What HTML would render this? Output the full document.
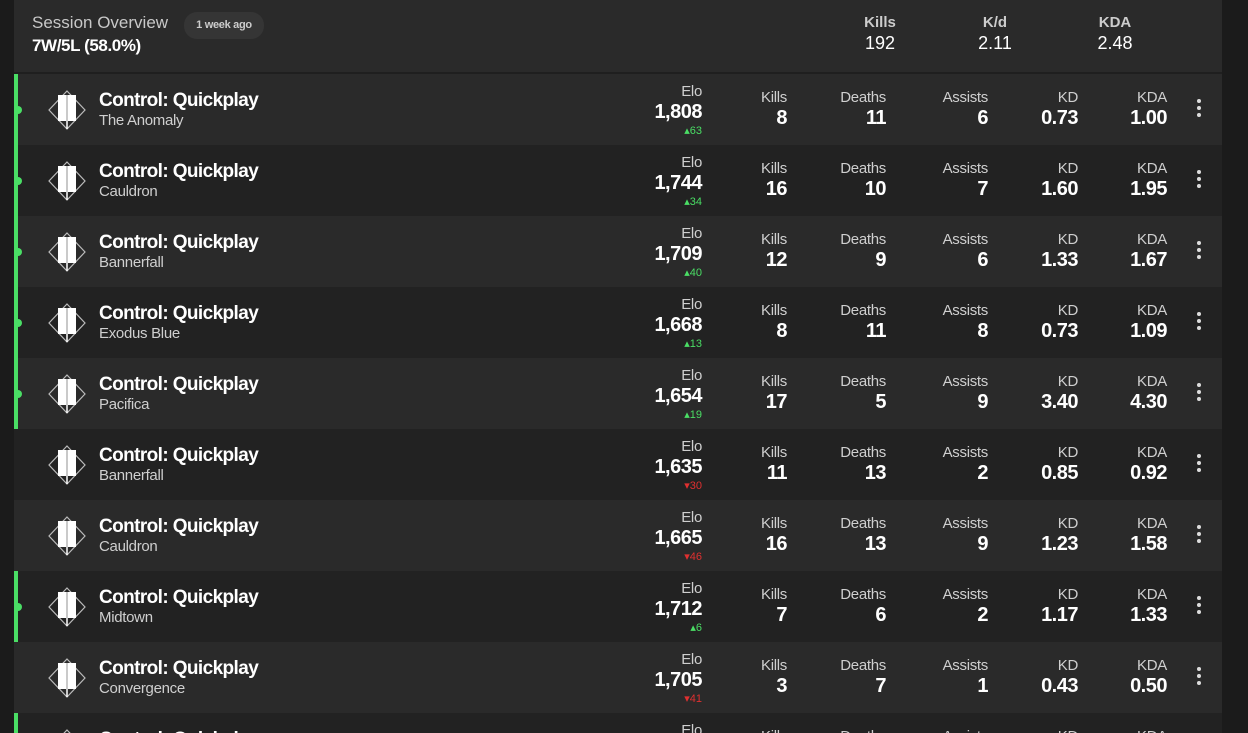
<!DOCTYPE html>
<html><head><meta charset="utf-8"><style>
html,body{margin:0;width:1248px;height:733px;overflow:hidden}
body{background:#1b1b1b;font-family:"Liberation Sans",sans-serif;color:#fff;position:relative}
.panel{position:absolute;left:14px;top:0;width:1208px;height:733px;background:#1f1f1f;overflow:hidden}
.hdr{position:absolute;left:0;top:0;width:1208px;height:72px;background:#2a2a2a}
.row{position:absolute;left:0;width:1208px;height:71px;overflow:hidden}
.bar{position:absolute;left:0;top:0;width:4px;height:71px;background:#4ade65}
.dot{position:absolute;left:0;top:32px;width:8px;height:8px;border-radius:50%;background:#4ade65}
.t{position:absolute;white-space:nowrap}
.lab{font-size:15px;color:#cfcfcf;text-align:right;letter-spacing:-0.3px}
.val{font-size:20px;font-weight:bold;text-align:right;letter-spacing:-0.5px}
</style></head><body>
<div class="panel">
<div class="hdr">
<div class="t" style="left:18px;top:13px;font-size:17px;color:#c8c8c8">Session Overview</div>
<div class="t" style="left:170px;top:12px;height:27px;width:80px;border-radius:13px;background:#353535;font-size:11px;font-weight:bold;color:#ccc;text-align:center;line-height:27px;letter-spacing:-0.3px">1 week ago</div>
<div class="t" style="left:18px;top:36px;font-size:17px;font-weight:bold;letter-spacing:-0.4px">7W/5L (58.0%)</div>
<div class="t" style="left:836px;top:14px;width:60px;text-align:center;font-size:15px;font-weight:bold;color:#ccc">Kills</div>
<div class="t" style="left:836px;top:33px;width:60px;text-align:center;font-size:18px">192</div>
<div class="t" style="left:951px;top:14px;width:60px;text-align:center;font-size:15px;font-weight:bold;color:#ccc">K/d</div>
<div class="t" style="left:951px;top:33px;width:60px;text-align:center;font-size:18px">2.11</div>
<div class="t" style="left:1071px;top:14px;width:60px;text-align:center;font-size:15px;font-weight:bold;color:#ccc">KDA</div>
<div class="t" style="left:1071px;top:33px;width:60px;text-align:center;font-size:18px">2.48</div>
</div>
<div id="rows"></div>
</div>
<script>
const maps=["The Anomaly","Cauldron","Bannerfall","Exodus Blue","Pacifica","Bannerfall","Cauldron","Midtown","Convergence",""];
const elo=["1,808","1,744","1,709","1,668","1,654","1,635","1,665","1,712","1,705",""];
const delta=[63,34,40,13,19,-30,-46,6,-41,0];
const kills=[8,16,12,8,17,11,16,7,3,""];
const deaths=[11,10,9,11,5,13,13,6,7,""];
const assists=[6,7,6,8,9,2,9,2,1,""];
const kd=["0.73","1.60","1.33","0.73","3.40","0.85","1.23","1.17","0.43",""];
const kda=["1.00","1.95","1.67","1.09","4.30","0.92","1.58","1.33","0.50",""];
const wins=[1,1,1,1,1,0,0,1,0,1];
const cont=document.getElementById('rows');
const cols=[["Kills",kills,773],["Deaths",deaths,872],["Assists",assists,974],["KD",kd,1064],["KDA",kda,1153]];
for(let i=0;i<10;i++){
 const r=document.createElement('div');r.className='row';
 
 
 const top=74+71*i;
 r.style.top=top+'px';r.style.background=i%2==0?'#2a2a2a':'#222222';
 r.style.height=Math.min(71,733-top)+'px';
 let h='';
 if(wins[i])h+='<div class="bar"></div><div class="dot"></div>';
 h+='<svg class="t" style="left:33px;top:15px" width="40" height="42"><path d="M20 2 L38 21 L20 40 L2 21 Z" fill="none" stroke="#bbb" stroke-width="1.2"/><rect x="11" y="6" width="8" height="26" fill="#fff"/><rect x="21" y="6" width="8" height="26" fill="#fff"/><line x1="20" y1="6" x2="20" y2="40" stroke="#fff" stroke-width="1.5"/></svg>';
 h+='<div class="t" style="left:85px;top:16px;font-size:19px;font-weight:bold;letter-spacing:-0.6px">Control: Quickplay</div>';
 h+='<div class="t" style="left:85px;top:38px;font-size:15px;color:#cfcfcf;letter-spacing:-0.3px">'+maps[i]+'</div>';
 h+='<div class="t lab" style="right:520px;top:9px">Elo</div>';
 h+='<div class="t val" style="right:520px;top:27px">'+elo[i]+'</div>';
 if(delta[i]){const up=delta[i]>0;h+='<div class="t" style="right:520px;top:50px;font-size:11px;color:'+(up?'#4ade65':'#e03030')+'">'+(up?'▴':'▾')+Math.abs(delta[i])+'</div>';}
 for(const c of cols){
  h+='<div class="t lab" style="right:'+(1208-c[2])+'px;top:15px">'+c[0]+'</div>';
  h+='<div class="t val" style="right:'+(1208-c[2])+'px;top:33px">'+c[1][i]+'</div>';
 }
 h+='<div class="t" style="left:1183px;top:25px;width:4px;"><div style="width:4px;height:4px;border-radius:2px;background:#ddd;margin-bottom:3px"></div><div style="width:4px;height:4px;border-radius:2px;background:#ddd;margin-bottom:3px"></div><div style="width:4px;height:4px;border-radius:2px;background:#ddd"></div></div>';
 r.innerHTML=h;cont.appendChild(r);
}
</script>
</body></html>
